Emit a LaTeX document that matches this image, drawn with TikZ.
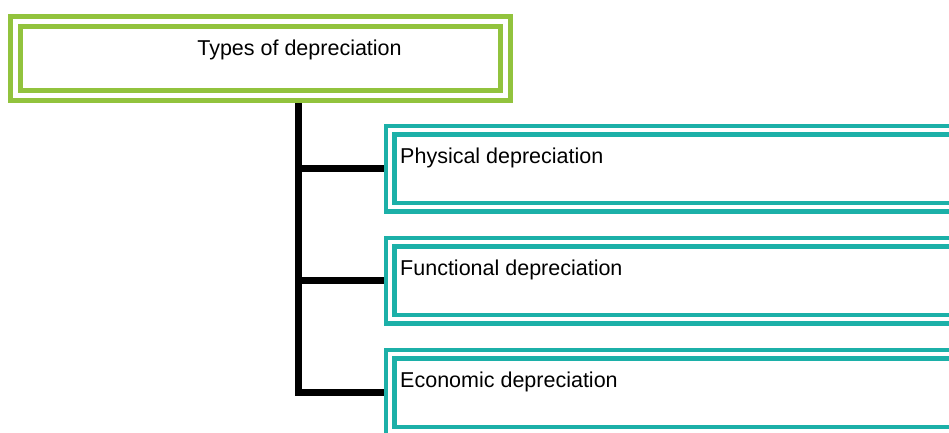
\documentclass[tikz,border=0pt]{standalone}
\usepackage{fontspec}
\setmainfont{Liberation Sans}
\usetikzlibrary{positioning}

\definecolor{leafgreen}{RGB}{146,195,61}
\definecolor{boxteal}{RGB}{28,176,168}

\tikzset{
  rootbox/.style={rectangle, draw=leafgreen, line width=5pt, double=white,
    double distance=5pt, minimum width=489.5pt, minimum height=74pt,
    inner sep=0pt, outer sep=7.5pt},
  kindbox/.style={rectangle, draw=boxteal, line width=4.5pt, double=white,
    double distance=4pt, minimum width=566pt, minimum height=77pt,
    inner sep=0pt, outer sep=6.5pt, anchor=north west},
  lbl/.style={inner sep=0pt, font=\fontsize{21.5}{26}\selectfont},
  branch/.style={draw=black, line width=6.5pt}
}

\begin{document}
\begin{tikzpicture}[x=1pt,y=-1pt]
		\useasboundingbox (0,0) rectangle (949,432);
		\clip (0,0) rectangle (949,432);
		% the boxes
		\node [rootbox] (types) at (260.25,58.5) {};
		\node [kindbox] (phys) at (383.5,123.5) {};
		\node [kindbox] (func) at (383.5,235.5) {};
		\node [kindbox] (econ) at (383.5,347.5) {};
		% texts
		\node [lbl, anchor=base] (typestxt) at (299.5,55) {Types of depreciation};
		\node [lbl, anchor=base west] (phystxt) at (400,163) {Physical depreciation};
		\node [lbl, anchor=base west] (functxt) at (400,275) {Functional depreciation};
		\node [lbl, anchor=base west] (econtxt) at (400,387) {Economic depreciation};
		% the tree
		\draw [branch]
		([xshift=38.25pt]types.south) |- (phys.west)
		([xshift=38.25pt]types.south) |- (func.west)
		([xshift=38.25pt]types.south) |- (econ.west);
	\end{tikzpicture}
\end{document}
